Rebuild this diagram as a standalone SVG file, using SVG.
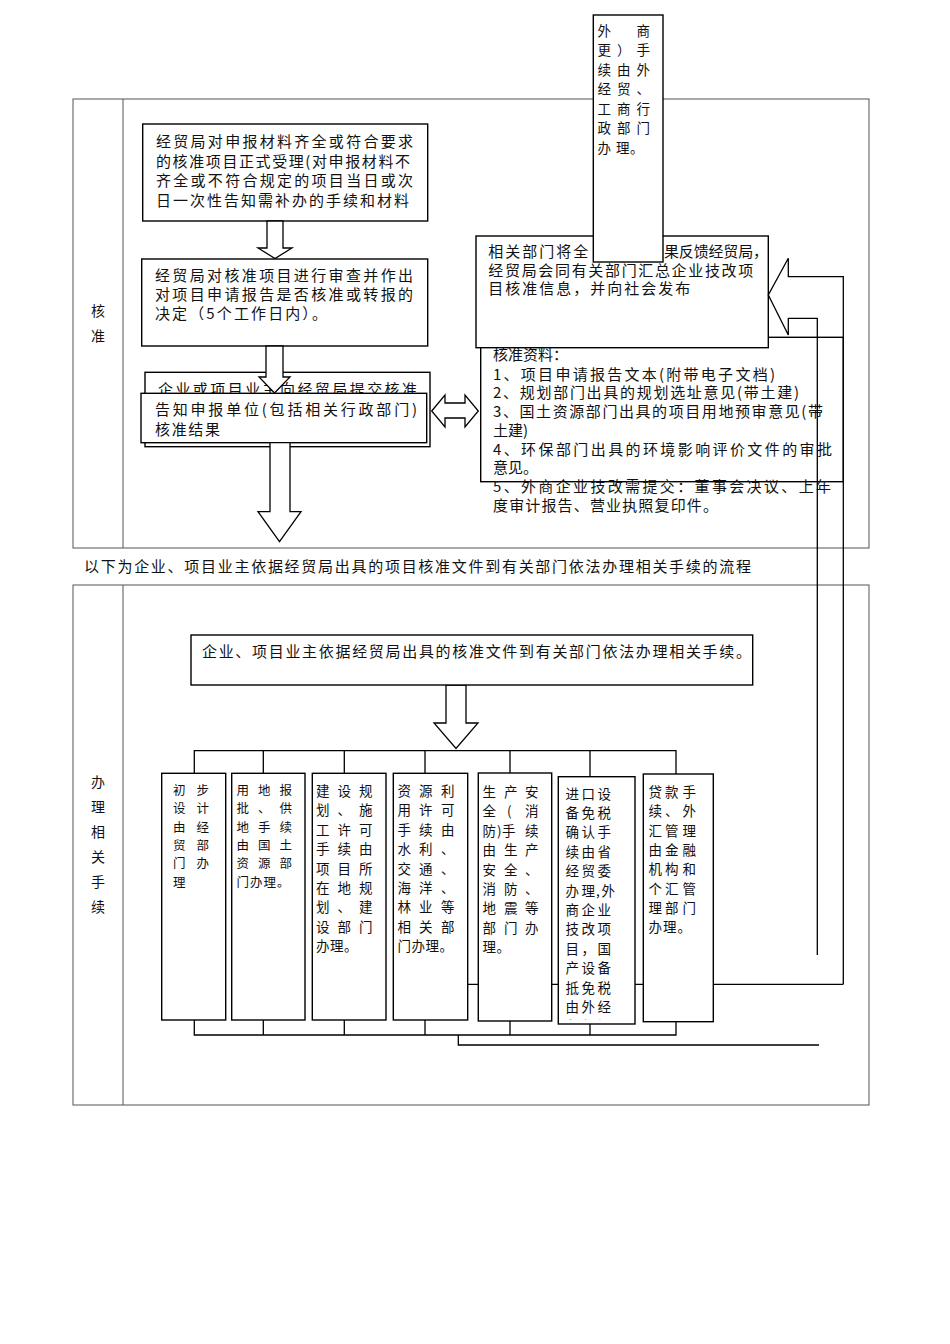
<svg xmlns="http://www.w3.org/2000/svg" width="950" height="1344" viewBox="0 0 950 1344">
<style>
.tbl{fill:none;stroke:#555;stroke-width:1}
.box{fill:#fff;stroke:#000;stroke-width:1.4}
.ln{fill:none;stroke:#000;stroke-width:1.3}
.arr{fill:#fff;stroke:#000;stroke-width:1.3;stroke-linejoin:miter}
text{font-family:"Noto Sans CJK SC","Noto Sans CJK JP",sans-serif;fill:#111}
.t15{font-size:15px}
.t14{font-size:14px}
.t13{font-size:13.5px}
.t12{font-size:12.5px}
</style>
<defs>
<clipPath id="clip6"><rect x="558" y="776" width="77" height="243.5"/></clipPath>
</defs>
<rect width="950" height="1344" fill="#fff"/>

<g id="table-top">
<rect class="tbl" x="73" y="99" width="796" height="449"/>
<line class="tbl" x1="123" y1="99" x2="123" y2="548"/>
<text class="t14"><tspan x="91" y="316">核</tspan><tspan x="91" y="341">准</tspan></text>
</g>
<g id="caption">
<text class="t15" x="84" y="571.5" textLength="667" lengthAdjust="spacing">以下为企业、项目业主依据经贸局出具的项目核准文件到有关部门依法办理相关手续的流程</text>
</g>
<g id="table-bottom">
<rect class="tbl" x="73" y="585" width="796" height="520"/>
<line class="tbl" x1="123" y1="585" x2="123" y2="1105"/>
<text class="t14"><tspan x="91" y="787">办</tspan><tspan x="91" y="812">理</tspan><tspan x="91" y="837">相</tspan><tspan x="91" y="862">关</tspan><tspan x="91" y="887">手</tspan><tspan x="91" y="912">续</tspan></text>
</g>

<g id="node-accept">
<rect class="box" x="142.7" y="124" width="285" height="97"/>
<text class="t15"><tspan x="156" y="147" textLength="257" lengthAdjust="spacing">经贸局对申报材料齐全或符合要求</tspan><tspan x="156" y="166.5" textLength="254" lengthAdjust="spacing">的核准项目正式受理(对申报材料不</tspan><tspan x="156" y="186" textLength="257" lengthAdjust="spacing">齐全或不符合规定的项目当日或次</tspan><tspan x="156" y="205.5" textLength="253" lengthAdjust="spacing">日一次性告知需补办的手续和材料</tspan></text>
</g>
<g id="node-review">
<rect class="box" x="141.7" y="259" width="286" height="87"/>
<text class="t15"><tspan x="155" y="280.5" textLength="258" lengthAdjust="spacing">经贸局对核准项目进行审查并作出</tspan><tspan x="155" y="299.5" textLength="258" lengthAdjust="spacing">对项目申请报告是否核准或转报的</tspan><tspan x="155" y="318.5" textLength="172" lengthAdjust="spacing">决定（5个工作日内）。</tspan></text>
</g>
<g id="node-submit">
<rect class="box" x="145" y="372.3" width="285" height="74.4"/>
<text class="t15" x="158" y="394.5" textLength="259" lengthAdjust="spacing">企业或项目业主向经贸局提交核准</text>
</g>
<g id="node-notify">
<rect class="box" x="141" y="393.3" width="285.7" height="49.4"/>
<text class="t15"><tspan x="155" y="414.5" textLength="262" lengthAdjust="spacing">告知申报单位(包括相关行政部门)</tspan><tspan x="155" y="435" textLength="65" lengthAdjust="spacing">核准结果</tspan></text>
</g>
<g id="node-materials">
<rect class="box" x="480.7" y="337.3" width="362.6" height="144.4"/>
<text class="t15"><tspan x="493" y="359.5">核准资料：</tspan><tspan x="493" y="379.7" textLength="282" lengthAdjust="spacing">1、项目申请报告文本(附带电子文档)</tspan><tspan x="493" y="398.4" textLength="306" lengthAdjust="spacing">2、规划部门出具的规划选址意见(带土建)</tspan><tspan x="493" y="417.1" textLength="330" lengthAdjust="spacing">3、国土资源部门出具的项目用地预审意见(带</tspan><tspan x="493" y="435.8">土建)</tspan><tspan x="493" y="454.5" textLength="339" lengthAdjust="spacing">4、环保部门出具的环境影响评价文件的审批</tspan><tspan x="493" y="473.2">意见。</tspan><tspan x="493" y="491.9" textLength="338" lengthAdjust="spacing">5、外商企业技改需提交：董事会决议、上年</tspan><tspan x="493" y="510.6" textLength="225" lengthAdjust="spacing">度审计报告、营业执照复印件。</tspan></text>
</g>
<g id="node-feedback">
<rect class="box" x="476" y="236" width="292.3" height="111.7"/>
<text class="t15"><tspan x="488.3" y="257" textLength="100" lengthAdjust="spacing">相关部门将全</tspan><tspan x="664" y="257" textLength="104" lengthAdjust="spacing">果反馈经贸局，</tspan><tspan x="488.3" y="275.5" textLength="265" lengthAdjust="spacing">经贸局会同有关部门汇总企业技改项</tspan><tspan x="488.3" y="294" textLength="202" lengthAdjust="spacing">目核准信息，并向社会发布</tspan></text>
</g>
<g id="node-foreign">
<rect class="box" x="593.3" y="15" width="69.7" height="247"/>
<text class="t13"><tspan x="597.5 636.5" y="35.5">外商</tspan><tspan x="597.5 617 636.5" y="55">更）手</tspan><tspan x="597.5 617 636.5" y="74.5">续由外</tspan><tspan x="597.5 617 636.5" y="94">经贸、</tspan><tspan x="597.5 617 636.5" y="113.5">工商行</tspan><tspan x="597.5 617 636.5" y="133">政部门</tspan><tspan x="597.5 616 630" y="152.5">办理。</tspan></text>
</g>

<g id="connectors">
<polygon class="arr" points="267,221 283,221 283,248 292,248 275,258.5 258,248 267,248"/>
<polygon class="arr" points="266,346 283,346 283,377 290,377 274.5,393 259,377 266,377"/>
<polygon class="arr" points="270,442.7 290,442.7 290,511.7 301,511.7 279.5,541.7 258,511.7 270,511.7"/>
<polygon class="arr" points="431.7,411 445,395 445,403 465,403 465,395 478.3,411 465,427 465,418 445,418 445,427"/>
<path class="ln" d="M843.3,984.3 V276.7 H788.3 V258.3 L768.3,295 L788.3,335 V318.3 H817.3 V955"/>
<polygon class="arr" points="446,685 466,685 466,723 478,723 456,748.5 434,723 446,723"/>
<path class="ln" d="M194.3,773 V750.7 H676 V774"/>
<path class="ln" d="M263.3,750.7 V773 M344.3,750.7 V773 M425,750.7 V773 M510,750.7 V773 M590,750.7 V776.7"/>
<path class="ln" d="M467.7,984.3 H843.3"/>
<path class="ln" d="M194.3,1020 V1035 H676 V1021"/>
<path class="ln" d="M263.3,1020 V1035 M344.3,1020 V1035 M425,1020 V1035 M510,1021 V1035 M590,1024 V1035"/>
<path class="ln" d="M458.3,1035 V1045 H819"/>
</g>

<g id="node-procedure">
<rect class="box" x="191" y="635" width="561.7" height="50"/>
<text class="t15" x="202" y="657" textLength="549" lengthAdjust="spacing">企业、项目业主依据经贸局出具的核准文件到有关部门依法办理相关手续。</text>
</g>
<g id="node-design">
<rect class="box" x="161.7" y="773.3" width="64" height="246.7"/>
<text class="t12"><tspan x="173 196.5" y="795">初步</tspan><tspan x="173 196.5" y="813.3">设计</tspan><tspan x="173 196.5" y="831.6">由经</tspan><tspan x="173 196.5" y="849.9">贸部</tspan><tspan x="173 196.5" y="868.2">门办</tspan><tspan x="173" y="886.5">理</tspan></text>
</g>
<g id="node-land">
<rect class="box" x="231.7" y="773.3" width="73.3" height="246.7"/>
<text class="t12"><tspan x="236.5 258 279.5" y="795">用地报</tspan><tspan x="236.5 258 279.5" y="813.3">批、供</tspan><tspan x="236.5 258 279.5" y="831.6">地手续</tspan><tspan x="236.5 258 279.5" y="849.9">由国土</tspan><tspan x="236.5 258 279.5" y="868.2">资源部</tspan><tspan x="236.5 250 263.5 277" y="886.5">门办理。</tspan></text>
</g>
<g id="node-planning">
<rect class="box" x="312.3" y="773.3" width="73.7" height="246.7"/>
<text class="t13"><tspan x="316 337.5 359" y="796">建设规</tspan><tspan x="316 337.5 359" y="815.4">划、施</tspan><tspan x="316 337.5 359" y="834.8">工许可</tspan><tspan x="316 337.5 359" y="854.2">手续由</tspan><tspan x="316 337.5 359" y="873.6">项目所</tspan><tspan x="316 337.5 359" y="893">在地规</tspan><tspan x="316 337.5 359" y="912.4">划、建</tspan><tspan x="316 337.5 359" y="931.8">设部门</tspan><tspan x="316 330 344" y="951.2">办理。</tspan></text>
</g>
<g id="node-resources">
<rect class="box" x="393.3" y="773.3" width="74.4" height="246.7"/>
<text class="t13"><tspan x="397.5 419 441" y="796">资源利</tspan><tspan x="397.5 419 441" y="815.4">用许可</tspan><tspan x="397.5 419 441" y="834.8">手续由</tspan><tspan x="397.5 419 441" y="854.2">水利、</tspan><tspan x="397.5 419 441" y="873.6">交通、</tspan><tspan x="397.5 419 441" y="893">海洋、</tspan><tspan x="397.5 419 441" y="912.4">林业等</tspan><tspan x="397.5 419 441" y="931.8">相关部</tspan><tspan x="397.5 411.5 425.5 439.5" y="951.2">门办理。</tspan></text>
</g>
<g id="node-safety">
<rect class="box" x="478.3" y="773" width="73.4" height="248"/>
<text class="t13"><tspan x="482.5 504 525" y="797">生产安</tspan><tspan x="482.5 507 525" y="816.4">全(消</tspan><tspan x="482.5 497 502 525" y="835.8">防)手续</tspan><tspan x="482.5 504 525" y="855.2">由生产</tspan><tspan x="482.5 504 525" y="874.6">安全、</tspan><tspan x="482.5 504 525" y="894">消防、</tspan><tspan x="482.5 504 525" y="913.4">地震等</tspan><tspan x="482.5 504 525" y="932.8">部门办</tspan><tspan x="482.5 496.5" y="952.2">理。</tspan></text>
</g>
<g id="node-import">
<rect class="box" x="558.3" y="776.7" width="76.7" height="247.3"/>
<text class="t13" clip-path="url(#clip6)"><tspan x="565.5 581.5 597.5" y="798.5">进口设</tspan><tspan x="565.5 581.5 597.5" y="817.9">备免税</tspan><tspan x="565.5 581.5 597.5" y="837.3">确认手</tspan><tspan x="565.5 581.5 597.5" y="856.7">续由省</tspan><tspan x="565.5 581.5 597.5" y="876.1">经贸委</tspan><tspan x="565.5 581.5 596 601.5" y="895.5">办理,外</tspan><tspan x="565.5 581.5 597.5" y="914.9">商企业</tspan><tspan x="565.5 581.5 597.5" y="934.3">技改项</tspan><tspan x="565.5 581.5 597.5" y="953.7">目，国</tspan><tspan x="565.5 581.5 597.5" y="973.1">产设备</tspan><tspan x="565.5 581.5 597.5" y="992.5">抵免税</tspan><tspan x="565.5 581.5 597.5" y="1011.9">由外经</tspan><tspan x="565.5 581.5 597.5" y="1031.3">贸部门</tspan></text>
</g>
<g id="node-loan">
<rect class="box" x="643.3" y="774" width="70" height="247.7"/>
<text class="t13"><tspan x="648.5 665 682.5" y="797">贷款手</tspan><tspan x="648.5 665 682.5" y="816.3">续、外</tspan><tspan x="648.5 665 682.5" y="835.6">汇管理</tspan><tspan x="648.5 665 682.5" y="854.9">由金融</tspan><tspan x="648.5 665 682.5" y="874.2">机构和</tspan><tspan x="648.5 665 682.5" y="893.5">个汇管</tspan><tspan x="648.5 665 682.5" y="912.8">理部门</tspan><tspan x="648.5 663 677.5" y="932.1">办理。</tspan></text>
</g>
</svg>
